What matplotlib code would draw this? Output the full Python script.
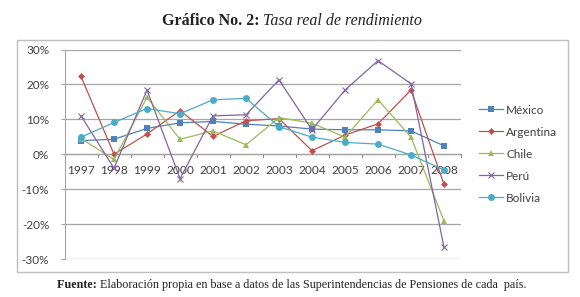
import matplotlib.pyplot as plt
from matplotlib.patches import Rectangle
from matplotlib.ticker import FuncFormatter

years = ['1997', '1998', '1999', '2000', '2001', '2002',
         '2003', '2004', '2005', '2006', '2007', '2008']
mexico = [3.9, 4.3, 7.4, 9.0, 9.4, 8.6, 8.1, 7.2, 7.0, 7.0, 6.7, 2.4]
argentina = [22.3, 0.0, 5.8, 12.5, 5.1, 9.6, 10.2, 1.0, 5.5, 8.7, 18.4, -8.6]
chile = [4.5, -1.5, 16.3, 4.3, 6.7, 2.7, 10.5, 8.9, 4.9, 15.6, 4.9, -19.1]
peru = [11.0, -4.0, 18.4, -7.0, 11.0, 11.3, 21.3, 7.0, 18.4, 26.8, 20.2, -26.7]
bolivia = [4.9, 9.1, 13.1, 11.6, 15.6, 16.0, 7.9, 4.9, 3.4, 2.9, -0.2, -4.5]

series = [('México', mexico, '#4F81BD', 's', 5),
          ('Argentina', argentina, '#C0504D', 'D', 3.5),
          ('Chile', chile, '#9BBB59', '^', 5),
          ('Perú', peru, '#8064A2', 'x', 5),
          ('Bolivia', bolivia, '#4BACC6', 'o', 5)]

W, H = 580, 297
fig = plt.figure(figsize=(5.8, 2.97), dpi=100)
fig.patch.set_facecolor('white')

# chart frame
fig.patches.append(Rectangle((17 / W, 1 - 272 / H), (568 - 17) / W, (272 - 40) / H,
                             transform=fig.transFigure, fill=False,
                             edgecolor='#bfbfbf', linewidth=1.0))

ax = fig.add_axes([64.5 / W, 1 - 259 / H, (460.5 - 64.5) / W, (259 - 49.5) / H])
x = list(range(len(years)))
for name, vals, col, mk, ms in series:
    kw = dict(markeredgewidth=0.8) if mk == 'x' else dict(markeredgewidth=0)
    ax.plot(x, vals, color=col, marker=mk, markersize=ms, linewidth=0.9,
            label=name, zorder=3, **kw)

ax.set_xlim(-0.5, len(years) - 0.5)
ax.set_ylim(-30, 30)
ax.set_yticks(range(-30, 31, 10))
ax.yaxis.set_major_formatter(FuncFormatter(lambda v, p: '%d%%' % v))
ax.grid(axis='y', color='#a6a6a6', linewidth=0.9, zorder=0)
for s in ['top', 'right', 'bottom']:
    ax.spines[s].set_visible(False)
ax.spines['left'].set_color('#a6a6a6')
ax.tick_params(axis='y', length=3, color='#a6a6a6', labelsize=8.5,
               labelcolor='#404040', pad=8)

# category axis crossing at 0
ax.axhline(0, color='#8c8c8c', linewidth=0.9, zorder=1)
ax.set_xticks([])
for i in range(len(years) + 1):
    ax.plot([i - 0.5, i - 0.5], [0, -0.9], color='#8c8c8c', linewidth=0.8,
            zorder=1, clip_on=False)
for i, yr in enumerate(years):
    ax.text(i, -4.7, yr, ha='center', va='center', fontsize=8.6,
            color='#404040', zorder=2, family='Lato')

for t in ax.get_yticklabels():
    t.set_fontfamily('Lato')

leg = fig.legend(loc='upper left', bbox_to_anchor=(468 / W, 1 - 94 / H),
                 frameon=False, fontsize=8.5, handlelength=2.1,
                 handletextpad=0.25, labelspacing=0.93, labelcolor='#404040')
for t in leg.get_texts():
    t.set_fontfamily('Lato')

# title and source, laid out piece by piece
r = fig.canvas.get_renderer()


def line_of(parts, x0, y, center=False):
    texts = []
    for s, kw in parts:
        t = fig.text(0, 1 - y / H, s, ha='left', va='center',
                     family='Liberation Serif', color='#222222', **kw)
        texts.append(t)
    widths = [t.get_window_extent(r).width for t in texts]
    total = sum(widths)
    xs = x0 - total / 2 if center else x0
    for t, w in zip(texts, widths):
        t.set_x(xs / W)
        xs += w


line_of([('Gráfico No. 2: ', dict(fontsize=11.5, fontweight='bold')),
         ('Tasa real de rendimiento', dict(fontsize=11.5, style='italic'))],
        292, 21, center=True)
line_of([('Fuente: ', dict(fontsize=8.7, fontweight='bold')),
         ('Elaboración propia en base a datos de las Superintendencias de Pensiones de cada  país.',
          dict(fontsize=8.7))],
        57, 285)

fig.savefig('out.png', dpi=100)
